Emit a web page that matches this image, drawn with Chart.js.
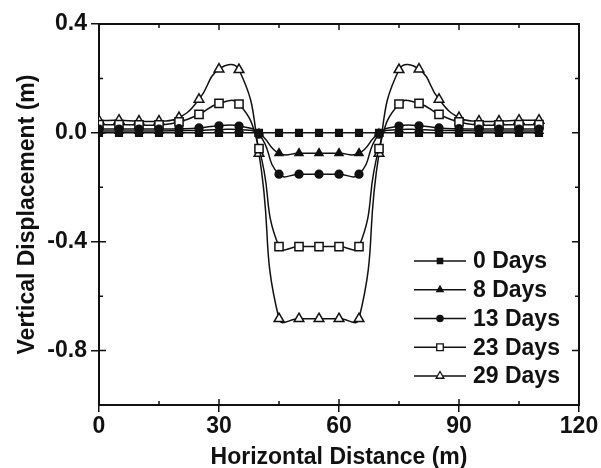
<!DOCTYPE html>
<html>
<head>
<meta charset="utf-8">
<script src="https://cdn.jsdelivr.net/npm/chart.js@4.4.1/dist/chart.umd.min.js"></script>
<style>
html,body{margin:0;padding:0;background:#ffffff;}
#wrap{width:601px;height:468px;}
</style>
</head>
<body>
<div id="wrap"><canvas id="c" width="601" height="468"></canvas></div>
<script>
// ---- data ----
const distances = [0,5,10,15,20,25,30,35,40,45,50,55,60,65,70,75,80,85,90,95,100,105,110];
const days0  = [0,0,0,0,0,0,0,0,0,0,0,0,0,0,0,0,0,0,0,0,0,0,0];
const days8  = [0.007,0.007,0.007,0.007,0.008,0.009,0.012,0.012,-0.003,-0.075,-0.075,-0.075,-0.075,-0.075,-0.003,0.012,0.012,0.009,0.008,0.007,0.007,0.007,0.007];
const days13 = [0.014,0.014,0.014,0.014,0.015,0.018,0.026,0.025,-0.005,-0.152,-0.152,-0.152,-0.152,-0.152,-0.005,0.025,0.026,0.018,0.015,0.014,0.014,0.014,0.014];
const days23 = [0.030,0.030,0.029,0.029,0.040,0.068,0.108,0.106,-0.058,-0.418,-0.418,-0.418,-0.418,-0.418,-0.058,0.106,0.108,0.068,0.040,0.029,0.029,0.030,0.030];
const days29 = [0.045,0.046,0.043,0.043,0.056,0.123,0.234,0.232,-0.076,-0.683,-0.683,-0.683,-0.683,-0.683,-0.076,0.232,0.234,0.123,0.056,0.043,0.043,0.046,0.046];
const seriesNames = ['0 Days','8 Days','13 Days','23 Days','29 Days'];
const xTickLabels = [0,30,60,90,120];
const yTickLabels = [0.4,0.0,-0.4,-0.8];
const xMinorTicks = [15,45,75,105];
const yMinorTicks = [0.2,-0.2,-0.6];

const FONT = "'Liberation Sans', Arial, Helvetica, sans-serif";
const INK = '#111111';

const styles = [
  {pointStyle:'rect',     radius:4.7, fill:INK},
  {pointStyle:'triangle', radius:4.6, fill:INK},
  {pointStyle:'circle',   radius:3.9, fill:INK},
  {pointStyle:'rect',     radius:5.8, fill:'#ffffff'},
  {pointStyle:'triangle', radius:5.6, fill:'#ffffff'}
];
const seriesValues = [days0, days8, days13, days23, days29];

const datasets = seriesValues.map((vals, i) => ({
  label: seriesNames[i],
  data: distances.map((x, j) => ({x: x, y: vals[j]})),
  borderColor: INK,
  borderWidth: 1.5,
  backgroundColor: styles[i].fill,
  pointStyle: styles[i].pointStyle,
  pointRadius: styles[i].radius,
  pointBackgroundColor: styles[i].fill,
  pointBorderColor: INK,
  pointBorderWidth: 1.5,
  pointHoverRadius: styles[i].radius,
  tension: 0.5,
  fill: false
}));

// frame: top/right axis lines and inward ticks
const framePlugin = {
  id: 'frame',
  afterDraw(chart) {
    const {ctx, chartArea: a, scales: {x, y}} = chart;
    ctx.save();
    ctx.strokeStyle = INK;
    ctx.lineWidth = 2;
    ctx.beginPath();
    ctx.moveTo(a.left - 1, a.top);
    ctx.lineTo(a.right, a.top);
    ctx.lineTo(a.right, a.bottom + 1);
    ctx.stroke();
    ctx.lineWidth = 1.5;
    ctx.beginPath();
    xTickLabels.forEach(v => {
      const px = x.getPixelForValue(v);
      ctx.moveTo(px, a.bottom); ctx.lineTo(px, a.bottom - 6);
      ctx.moveTo(px, a.top); ctx.lineTo(px, a.top + 6);
    });
    xMinorTicks.forEach(v => {
      const px = x.getPixelForValue(v);
      ctx.moveTo(px, a.bottom); ctx.lineTo(px, a.bottom - 4);
      ctx.moveTo(px, a.top); ctx.lineTo(px, a.top + 4);
    });
    yTickLabels.forEach(v => {
      const py = y.getPixelForValue(v);
      ctx.moveTo(a.left, py); ctx.lineTo(a.left + 7, py);
      ctx.moveTo(a.right, py); ctx.lineTo(a.right - 7, py);
    });
    yMinorTicks.forEach(v => {
      const py = y.getPixelForValue(v);
      ctx.moveTo(a.left, py); ctx.lineTo(a.left + 4, py);
      ctx.moveTo(a.right, py); ctx.lineTo(a.right - 4, py);
    });
    ctx.stroke();
    ctx.restore();
  }
};

// legend inside the plot: line + marker + label
const legendPlugin = {
  id: 'innerLegend',
  afterDatasetsDraw(chart) {
    const {ctx, chartArea: a} = chart;
    const x0 = a.right - 165, lineLen = 52, y0 = a.top + 237, step = 28.75;
    ctx.save();
    chart.data.datasets.forEach((ds, i) => {
      const yy = y0 + i * step;
      ctx.strokeStyle = INK;
      ctx.lineWidth = 1.5;
      ctx.beginPath();
      ctx.moveTo(x0, yy); ctx.lineTo(x0 + lineLen, yy);
      ctx.stroke();
      ctx.fillStyle = ds.pointBackgroundColor;
      ctx.strokeStyle = INK;
      ctx.lineWidth = 1.3;
      Chart.helpers.drawPoint(ctx, {pointStyle: ds.pointStyle, radius: ds.pointRadius * 0.8, borderWidth: 1.3, rotation: 0}, x0 + lineLen / 2, yy);
      ctx.fillStyle = INK;
      ctx.font = 'bold 23px ' + FONT;
      ctx.textAlign = 'left';
      ctx.textBaseline = 'middle';
      ctx.fillText(ds.label, x0 + lineLen + 7, yy + 1);
    });
    ctx.restore();
  }
};

new Chart(document.getElementById('c'), {
  type: 'line',
  data: {datasets: datasets},
  plugins: [framePlugin, legendPlugin],
  options: {
    responsive: false,
    animation: false,
    devicePixelRatio: 1,
    layout: {padding: {top: 24, right: 22, left: 0, bottom: 0}},
    plugins: {legend: {display: false}, tooltip: {enabled: false}},
    elements: {line: {capBezierPoints: true}},
    scales: {
      x: {
        type: 'linear',
        min: 0, max: 120,
        afterBuildTicks: s => { s.ticks = xTickLabels.map(v => ({value: v})); },
        afterFit: s => { s.height = 63; },
        ticks: {
          color: INK, padding: 1, maxRotation: 0, autoSkip: false,
          font: {family: FONT, size: 23, weight: 'bold'},
          callback: v => String(v)
        },
        grid: {drawOnChartArea: false, drawTicks: true, tickLength: 7, color: INK, lineWidth: 1.5},
        border: {display: true, color: INK, width: 2},
        title: {
          display: true, text: 'Horizontal Distance (m)', color: INK,
          font: {family: FONT, size: 23, weight: 'bold', lineHeight: 0.9},
          padding: {top: 0, bottom: 0}
        }
      },
      y: {
        type: 'linear',
        min: -1.0, max: 0.4,
        afterBuildTicks: s => { s.ticks = yTickLabels.map(v => ({value: v})); },
        afterFit: s => { s.width = 99; },
        ticks: {
          color: INK, padding: 4, autoSkip: false,
          font: {family: FONT, size: 23, weight: 'bold'},
          callback: v => Number(v).toFixed(1)
        },
        grid: {drawOnChartArea: false, drawTicks: true, tickLength: 8, color: INK, lineWidth: 1.5},
        border: {display: true, color: INK, width: 2},
        title: {
          display: true, text: 'Vertical Displacement (m)', color: INK,
          font: {family: FONT, size: 23, weight: 'bold'},
          padding: {top: 14, bottom: 0}
        }
      }
    }
  }
});
</script>
</body>
</html>
